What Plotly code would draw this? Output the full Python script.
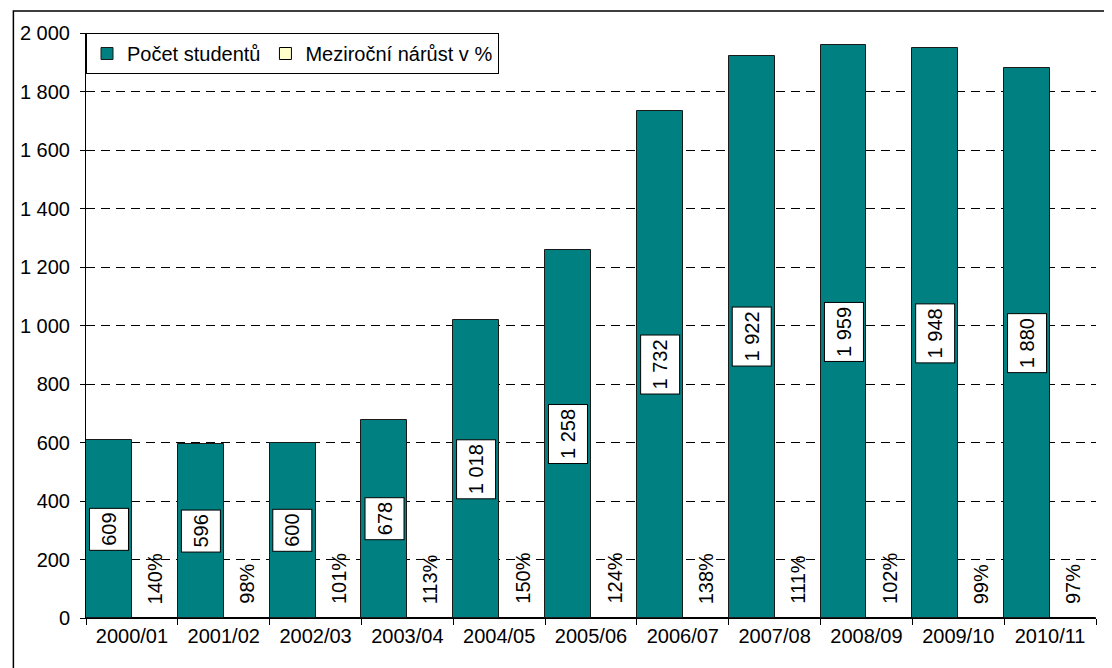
import plotly.graph_objects as go

# ── Data ──────────────────────────────────────────────────────────────────────

years = ["2000/01", "2001/02", "2002/03", "2003/04", "2004/05", "2005/06",
         "2006/07", "2007/08", "2008/09", "2009/10", "2010/11"]
students = [609, 596, 600, 678, 1018, 1258, 1732, 1922, 1959, 1948, 1880]
growth_pct = [140, 98, 101, 113, 150, 124, 138, 111, 102, 99, 97]

TEAL = "#008080"
PALE = "#FFFFCC"
FONT = "Liberation Sans, Arial, sans-serif"


def fmt_thousands(v):
    return f"{v:,}".replace(",", " ")


# ── Figure ────────────────────────────────────────────────────────────────────

fig = go.Figure()

fig.add_trace(go.Bar(
    x=years, y=students, name="Počet studentů",
    marker=dict(color=TEAL, line=dict(color="#1a1a1a", width=1)),
))
# growth is plotted as a ratio on the same axis, so the bars are practically flat
fig.add_trace(go.Bar(
    x=years, y=[p / 100 for p in growth_pct], name="Meziroční nárůst v %",
    marker=dict(color=PALE, line=dict(color="#000000", width=1)),
))

annotations = []
for yr, v in zip(years, students):
    annotations.append(dict(
        x=yr, y=v / 2, xref="x", yref="y", xshift=-23,
        text=fmt_thousands(v), textangle=-90, showarrow=False, height=30,
        font=dict(family=FONT, size=20, color="#000000"),
        bgcolor="#FFFFFF", bordercolor="#000000", borderwidth=1, borderpad=4,
    ))
for yr, p in zip(years, growth_pct):
    annotations.append(dict(
        x=yr, y=0, xref="x", yref="y", xshift=23, yshift=12,
        yanchor="bottom", text=f"{p}%", textangle=-90, showarrow=False,
        font=dict(family=FONT, size=20, color="#000000"),
    ))

# page body adds an 8px offset, so the figure is a bit smaller than the window
fig.update_layout(
    width=1104, height=660,
    margin=dict(l=73, r=16, t=25, b=50),
    paper_bgcolor="#FFFFFF", plot_bgcolor="#FFFFFF",
    font=dict(family=FONT, size=20, color="#000000"),
    separators=", ",
    barmode="group", bargap=0, bargroupgap=0,
    showlegend=True,
    legend=dict(
        orientation="h", x=0, y=1, xanchor="left", yanchor="top",
        bgcolor="#FFFFFF", bordercolor="#000000", borderwidth=1,
        font=dict(family=FONT, size=20), traceorder="normal",
    ),
    annotations=annotations,
    shapes=[dict(
        type="rect", xref="paper", yref="paper",
        x0=-0.0719, x1=1.0118, y0=-0.15, y1=1.0376,
        line=dict(color="#000000", width=1.5), fillcolor="rgba(0,0,0,0)",
        layer="below",
    )],
)

fig.update_xaxes(
    type="category", tickson="boundaries", ticks="outside", ticklen=6,
    tickcolor="#000000", showline=True, linecolor="#000000", linewidth=1,
    showgrid=False, tickfont=dict(family=FONT, size=20),
)
fig.update_yaxes(
    range=[0, 2000], dtick=200, tickformat=",d", ticks="outside", ticklen=5,
    tickcolor="#000000", showline=True, linecolor="#000000", linewidth=1,
    showgrid=True, gridcolor="#000000", gridwidth=1, griddash="9px,6px",
    zeroline=False, tickfont=dict(family=FONT, size=20), ticklabelstandoff=6,
)

fig.write_html("out.html")
